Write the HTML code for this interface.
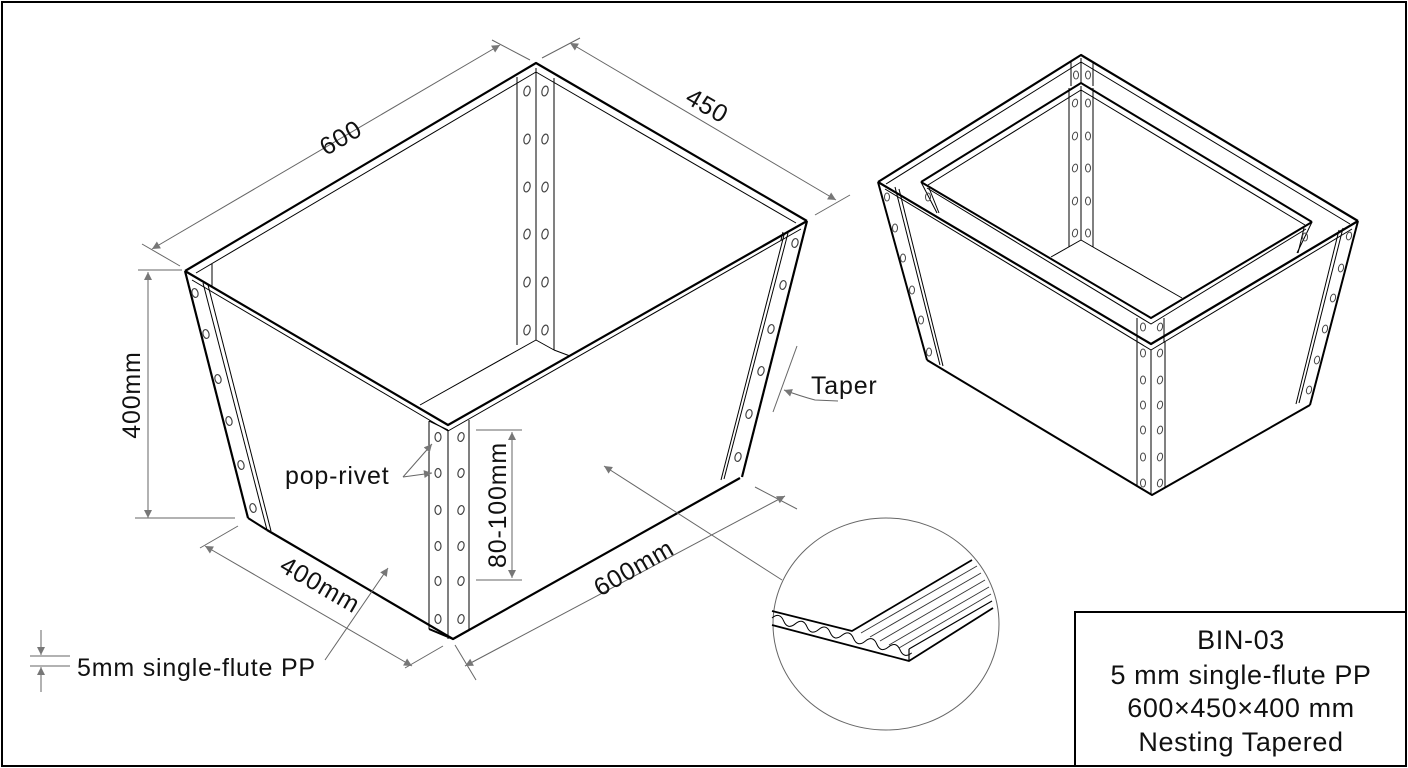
<!DOCTYPE html>
<html><head><meta charset="utf-8"><style>
html,body{margin:0;padding:0;background:#fff;}
svg{display:block;font-family:"Liberation Sans",sans-serif;}
</style></head><body>
<svg width="1408" height="768" viewBox="0 0 1408 768" xmlns="http://www.w3.org/2000/svg">
<defs>
<marker id="a" viewBox="0 0 10 10" refX="10" refY="5" markerWidth="14" markerHeight="8" markerUnits="userSpaceOnUse" orient="auto-start-reverse"><path d="M0,0 L10,5 L0,10 z" fill="#777"/></marker>
</defs>
<rect x="2" y="2" width="1404" height="764" fill="none" stroke="#000" stroke-width="2"/>
<!-- title block -->
<rect x="1075" y="612" width="331" height="154" fill="none" stroke="#000" stroke-width="2"/>
<g font-size="27" text-anchor="middle" fill="#111" letter-spacing="0.6">
<text x="1241" y="649">BIN-03</text>
<text x="1241" y="684">5 mm single-flute PP</text>
<text x="1241" y="717">600×450×400 mm</text>
<text x="1241" y="751">Nesting Tapered</text>
</g>

<!-- MAIN BOX -->
<g fill="none" stroke="#000" stroke-linejoin="round">
<g stroke-width="1"><line x1="517" y1="77" x2="517" y2="345"/><line x1="536" y1="68" x2="536" y2="340"/><line x1="554" y1="78" x2="554" y2="350"/>
<line x1="536" y1="340" x2="420" y2="405"/><line x1="536" y1="340" x2="554" y2="350"/><line x1="554" y1="350" x2="570" y2="356"/>
<line x1="212" y1="264" x2="212" y2="287"/><line x1="783" y1="232" x2="781" y2="240"/></g>
<polyline points="185,271 536,63 807,221" stroke-width="2.2"/>
<polyline points="196,273 536,72 796,223" stroke-width="1"/>
<polyline points="185,271 448,425 807,221" stroke-width="2.2"/>
<polyline points="192,280 448,431 801,229" stroke-width="1"/>
<line x1="185" y1="271" x2="248" y2="518" stroke-width="2.2"/>
<line x1="203" y1="283" x2="267" y2="530" stroke-width="1"/>
<line x1="208" y1="285" x2="271" y2="531" stroke-width="1"/>
<polyline points="248,518 267,530" stroke-width="2"/>
<polyline points="267,530 453,639 740,478" stroke-width="2.2"/>
<line x1="429" y1="421" x2="429" y2="629" stroke-width="1"/>
<line x1="448" y1="430" x2="448" y2="639" stroke-width="1"/>
<line x1="469" y1="420" x2="469" y2="630" stroke-width="1"/>
<line x1="429" y1="421" x2="448" y2="430" stroke-width="1"/>
<polyline points="429,629 453,639 469,630" stroke-width="2"/>
<line x1="807" y1="221" x2="742" y2="477" stroke-width="2.2"/>
<line x1="788" y1="233" x2="724" y2="479" stroke-width="1"/>
<line x1="784" y1="235" x2="721" y2="480" stroke-width="1"/>
</g>
<g fill="none" stroke="#444" stroke-width="1.2">
<ellipse cx="527" cy="91" rx="3" ry="5" transform="rotate(15 527 91)"/><ellipse cx="545" cy="91" rx="3" ry="5" transform="rotate(15 545 91)"/>
<ellipse cx="527" cy="139" rx="3" ry="5" transform="rotate(15 527 139)"/><ellipse cx="545" cy="139" rx="3" ry="5" transform="rotate(15 545 139)"/>
<ellipse cx="527" cy="187" rx="3" ry="5" transform="rotate(15 527 187)"/><ellipse cx="545" cy="187" rx="3" ry="5" transform="rotate(15 545 187)"/>
<ellipse cx="527" cy="234" rx="3" ry="5" transform="rotate(15 527 234)"/><ellipse cx="545" cy="234" rx="3" ry="5" transform="rotate(15 545 234)"/>
<ellipse cx="527" cy="282" rx="3" ry="5" transform="rotate(15 527 282)"/><ellipse cx="545" cy="282" rx="3" ry="5" transform="rotate(15 545 282)"/>
<ellipse cx="527" cy="330" rx="3" ry="5" transform="rotate(15 527 330)"/><ellipse cx="545" cy="330" rx="3" ry="5" transform="rotate(15 545 330)"/>
<ellipse cx="195" cy="293" rx="3" ry="4.5" transform="rotate(-15 195 293)"/>
<ellipse cx="206" cy="334" rx="3" ry="4.5" transform="rotate(-15 206 334)"/>
<ellipse cx="218" cy="379" rx="3" ry="4.5" transform="rotate(-15 218 379)"/>
<ellipse cx="229" cy="421" rx="3" ry="4.5" transform="rotate(-15 229 421)"/>
<ellipse cx="241" cy="465" rx="3" ry="4.5" transform="rotate(-15 241 465)"/>
<ellipse cx="253" cy="508" rx="3" ry="4.5" transform="rotate(-15 253 508)"/>
<ellipse cx="438" cy="437" rx="3" ry="4.5"/><ellipse cx="461" cy="437" rx="3" ry="4.5" transform="rotate(15 461 437)"/>
<ellipse cx="438" cy="473" rx="3" ry="4.5"/><ellipse cx="461" cy="473" rx="3" ry="4.5" transform="rotate(15 461 473)"/>
<ellipse cx="438" cy="510" rx="3" ry="4.5"/><ellipse cx="461" cy="510" rx="3" ry="4.5" transform="rotate(15 461 510)"/>
<ellipse cx="438" cy="546" rx="3" ry="4.5"/><ellipse cx="461" cy="546" rx="3" ry="4.5" transform="rotate(15 461 546)"/>
<ellipse cx="438" cy="581" rx="3" ry="4.5"/><ellipse cx="461" cy="581" rx="3" ry="4.5" transform="rotate(15 461 581)"/>
<ellipse cx="438" cy="619" rx="3" ry="4.5"/><ellipse cx="461" cy="619" rx="3" ry="4.5" transform="rotate(15 461 619)"/>
<ellipse cx="795" cy="243" rx="3" ry="4.5" transform="rotate(15 795 243)"/>
<ellipse cx="783" cy="285" rx="3" ry="4.5" transform="rotate(15 783 285)"/>
<ellipse cx="771" cy="329" rx="3" ry="4.5" transform="rotate(15 771 329)"/>
<ellipse cx="761" cy="371" rx="3" ry="4.5" transform="rotate(15 761 371)"/>
<ellipse cx="749" cy="414" rx="3" ry="4.5" transform="rotate(15 749 414)"/>
<ellipse cx="738" cy="457" rx="3" ry="4.5" transform="rotate(15 738 457)"/>
</g>

<!-- DIMENSIONS -->
<g stroke="#666" stroke-width="1" fill="none">
<line x1="142" y1="244" x2="180" y2="266"/><line x1="492" y1="40" x2="530" y2="60"/>
<line x1="152" y1="249" x2="500" y2="45" marker-start="url(#a)" marker-end="url(#a)"/>
<line x1="542" y1="58" x2="580" y2="38"/><line x1="815" y1="215" x2="850" y2="195"/>
<line x1="570" y1="43" x2="836" y2="200" marker-start="url(#a)" marker-end="url(#a)"/>
<line x1="138" y1="270" x2="182" y2="270"/><line x1="135" y1="518" x2="235" y2="518"/>
<line x1="148" y1="272" x2="148" y2="518" marker-start="url(#a)" marker-end="url(#a)"/>
<line x1="200" y1="548" x2="238" y2="526"/><line x1="405" y1="668" x2="443" y2="646"/>
<line x1="205" y1="546" x2="412" y2="666" marker-start="url(#a)" marker-end="url(#a)"/>
<line x1="476" y1="680" x2="455" y2="645"/><line x1="755" y1="487" x2="797" y2="509"/>
<line x1="465" y1="666" x2="785" y2="496" marker-start="url(#a)" marker-end="url(#a)"/>
<line x1="476" y1="430" x2="522" y2="430"/><line x1="476" y1="580" x2="522" y2="580"/>
<line x1="512" y1="432" x2="512" y2="578" marker-start="url(#a)" marker-end="url(#a)"/>
<line x1="403" y1="477" x2="432" y2="444" marker-end="url(#a)"/>
<line x1="403" y1="477" x2="432" y2="473" marker-end="url(#a)"/>
<line x1="325" y1="660" x2="388" y2="568" marker-end="url(#a)"/>
<line x1="782" y1="580" x2="604" y2="466" marker-end="url(#a)"/>
<line x1="797" y1="346" x2="773" y2="412"/>
<path d="M838,401 L815,400 Q800,396 784,390" marker-end="url(#a)"/>
<line x1="30" y1="656" x2="70" y2="656"/><line x1="30" y1="666" x2="70" y2="666"/>
<line x1="41" y1="630" x2="41" y2="655" marker-end="url(#a)"/>
<line x1="41" y1="692" x2="41" y2="667" marker-end="url(#a)"/>
</g>
<g font-size="25" fill="#111" letter-spacing="0.8">
<text transform="translate(345,145) rotate(-30.5)" text-anchor="middle">600</text>
<text transform="translate(703,113) rotate(30)" text-anchor="middle">450</text>
<text transform="translate(140,395) rotate(-90)" text-anchor="middle">400mm</text>
<text transform="translate(316,592) rotate(30)" text-anchor="middle">400mm</text>
<text transform="translate(638,575) rotate(-30)" text-anchor="middle">600mm</text>
<text transform="translate(506,505) rotate(-90)" text-anchor="middle">80-100mm</text>
<text x="285" y="484">pop-rivet</text>
<text x="811" y="394">Taper</text>
<text x="77" y="676">5mm single-flute PP</text>
</g>

<!-- DETAIL CIRCLE -->
<ellipse cx="886" cy="624" rx="113" ry="106" fill="#fff" stroke="#666" stroke-width="1"/>
<g fill="none" stroke="#000" stroke-linejoin="round">
<path d="M772,611 L852,631 L972,560" stroke-width="1.8"/>
<path d="M772,618 q6,-8 12,0 q6,8 12,0 q6,-8 12,0 q6,8 12,0 q6,-8 12,0 q6,8 12,0 q6,-8 12,0 q6,8 12,0 q6,-8 12,0 q6,8 12,0 q6,-8 12,0 q6,8 12,0" stroke-width="1" transform="rotate(14 772 618)"/>
<path d="M772,625 L909,661 L993,608" stroke-width="1.8"/>
<line x1="909" y1="661" x2="909" y2="649" stroke-width="1.2"/>
<line x1="909" y1="649" x2="992" y2="601" stroke-width="1.2"/>
<g stroke-width="0.9" stroke="#333">
<line x1="861" y1="633" x2="977" y2="566"/>
<line x1="870" y1="637" x2="981" y2="573"/>
<line x1="880" y1="641" x2="985" y2="580"/>
<line x1="889" y1="645" x2="989" y2="587"/>
<line x1="899" y1="648" x2="991" y2="594"/>
</g>
</g>

<!-- RIGHT NESTED BOXES -->
<g fill="none" stroke="#000" stroke-linejoin="round">
<g stroke-width="1"><line x1="1071" y1="62" x2="1071" y2="86"/><line x1="1093" y1="62" x2="1093" y2="86"/><line x1="1081" y1="58" x2="1081" y2="83"/></g>
<polyline points="878,182 1081,55 1358,221" stroke-width="2.2"/>
<polyline points="886,184 1081,62 1350,224" stroke-width="1"/>
<polyline points="878,182 1151,344 1358,221" stroke-width="2.2"/>
<polyline points="885,189 1151,350 1352,229" stroke-width="1"/>
<line x1="878" y1="182" x2="927" y2="360" stroke-width="2"/>
<line x1="895" y1="187" x2="940" y2="365" stroke-width="1"/>
<line x1="899" y1="189" x2="943" y2="366" stroke-width="1"/>
<line x1="1358" y1="221" x2="1310" y2="405" stroke-width="2"/>
<line x1="1343" y1="228" x2="1299" y2="403" stroke-width="1"/>
<line x1="1339" y1="230" x2="1296" y2="404" stroke-width="1"/>
<polyline points="927,360 1152,495 1310,405" stroke-width="2"/>
<g stroke-width="1"><line x1="1137" y1="342" x2="1137" y2="487"/><line x1="1151" y1="350" x2="1151" y2="495"/><line x1="1165" y1="342" x2="1165" y2="487"/></g>
<g stroke-width="1"><line x1="1069" y1="88" x2="1069" y2="247"/><line x1="1081" y1="86" x2="1081" y2="240"/><line x1="1093" y1="88" x2="1093" y2="247"/>
<line x1="1081" y1="240" x2="1051" y2="257"/><line x1="1081" y1="240" x2="1093" y2="247"/><line x1="1093" y1="247" x2="1182" y2="298"/>
<line x1="921" y1="182" x2="937" y2="213"/><line x1="929" y1="188" x2="939" y2="213"/>
<line x1="1312" y1="222" x2="1297" y2="253"/><line x1="1304" y1="228" x2="1298" y2="253"/>
<line x1="1137" y1="318" x2="1137" y2="342"/><line x1="1164" y1="318" x2="1164" y2="342"/></g>
<polyline points="921,182 1081,83 1312,222" stroke-width="2"/>
<polyline points="928,185 1081,90 1305,225" stroke-width="1"/>
<polyline points="921,182 1151,318 1312,222" stroke-width="2"/>
<polyline points="927,188 1151,324 1306,229" stroke-width="1"/>
</g>
<g fill="none" stroke="#444" stroke-width="1">
<ellipse cx="1076" cy="75" rx="2.5" ry="4"/><ellipse cx="1088" cy="75" rx="2.5" ry="4"/>
<ellipse cx="1075" cy="103" rx="2.5" ry="4" transform="rotate(15 1075 103)"/><ellipse cx="1088" cy="103" rx="2.5" ry="4"/>
<ellipse cx="1075" cy="136" rx="2.5" ry="4" transform="rotate(15 1075 136)"/><ellipse cx="1088" cy="136" rx="2.5" ry="4"/>
<ellipse cx="1075" cy="168" rx="2.5" ry="4" transform="rotate(15 1075 168)"/><ellipse cx="1088" cy="168" rx="2.5" ry="4"/>
<ellipse cx="1075" cy="201" rx="2.5" ry="4" transform="rotate(15 1075 201)"/><ellipse cx="1088" cy="201" rx="2.5" ry="4"/>
<ellipse cx="1075" cy="233" rx="2.5" ry="4" transform="rotate(15 1075 233)"/><ellipse cx="1088" cy="233" rx="2.5" ry="4"/>
<ellipse cx="928" cy="197" rx="2.5" ry="4"/><ellipse cx="1305" cy="237" rx="2.5" ry="4"/>
<ellipse cx="1143" cy="327" rx="2.5" ry="4"/><ellipse cx="1160" cy="327" rx="2.5" ry="4" transform="rotate(15 1160 327)"/>
<ellipse cx="887" cy="197" rx="2.5" ry="4"/><ellipse cx="895" cy="228" rx="2.5" ry="4"/><ellipse cx="903" cy="258" rx="2.5" ry="4"/>
<ellipse cx="912" cy="290" rx="2.5" ry="4"/><ellipse cx="921" cy="320" rx="2.5" ry="4"/><ellipse cx="929" cy="352" rx="2.5" ry="4"/>
<ellipse cx="1349" cy="236" rx="2.5" ry="4" transform="rotate(15 1349 236)"/><ellipse cx="1341" cy="268" rx="2.5" ry="4" transform="rotate(15 1341 268)"/>
<ellipse cx="1333" cy="298" rx="2.5" ry="4" transform="rotate(15 1333 298)"/><ellipse cx="1325" cy="329" rx="2.5" ry="4" transform="rotate(15 1325 329)"/>
<ellipse cx="1317" cy="360" rx="2.5" ry="4" transform="rotate(15 1317 360)"/><ellipse cx="1309" cy="390" rx="2.5" ry="4" transform="rotate(15 1309 390)"/>
<ellipse cx="1143" cy="353" rx="2.5" ry="4"/><ellipse cx="1160" cy="353" rx="2.5" ry="4" transform="rotate(15 1160 353)"/>
<ellipse cx="1143" cy="380" rx="2.5" ry="4"/><ellipse cx="1160" cy="380" rx="2.5" ry="4" transform="rotate(15 1160 380)"/>
<ellipse cx="1143" cy="405" rx="2.5" ry="4"/><ellipse cx="1160" cy="405" rx="2.5" ry="4" transform="rotate(15 1160 405)"/>
<ellipse cx="1143" cy="430" rx="2.5" ry="4"/><ellipse cx="1160" cy="430" rx="2.5" ry="4" transform="rotate(15 1160 430)"/>
<ellipse cx="1143" cy="457" rx="2.5" ry="4"/><ellipse cx="1160" cy="457" rx="2.5" ry="4" transform="rotate(15 1160 457)"/>
<ellipse cx="1143" cy="483" rx="2.5" ry="4"/><ellipse cx="1160" cy="483" rx="2.5" ry="4" transform="rotate(15 1160 483)"/>
</g>
</svg>
</body></html>
